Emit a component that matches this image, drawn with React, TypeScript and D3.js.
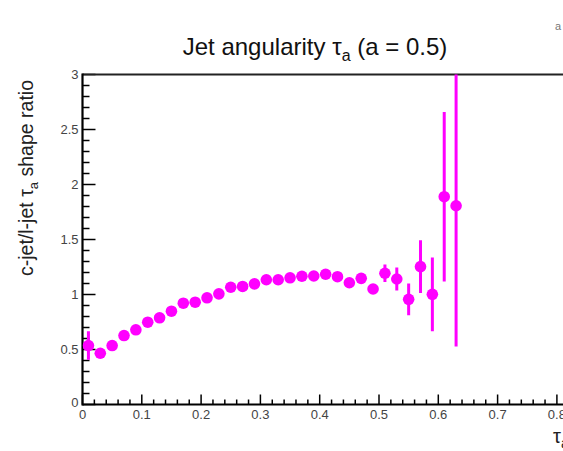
import React from "react";
import * as d3 from "d3";

const binCenters = [0.01,0.03,0.05,0.07,0.09,0.11,0.13,0.15,0.17,0.19,0.21,0.23,0.25,0.27,0.29,0.31,0.33,0.35,0.37,0.39,0.41,0.43,0.45,0.47,0.49,0.51,0.53,0.55,0.57,0.59,0.61,0.63];
const ratios = [0.536,0.466,0.536,0.627,0.679,0.748,0.788,0.848,0.921,0.93,0.97,1.006,1.066,1.073,1.097,1.134,1.134,1.152,1.166,1.168,1.184,1.162,1.107,1.147,1.05,1.193,1.141,0.956,1.253,1.002,1.889,1.807];
const errors = [0.13,0.02,0.02,0.02,0.02,0.02,0.02,0.02,0.02,0.02,0.02,0.02,0.02,0.02,0.02,0.02,0.02,0.02,0.02,0.02,0.02,0.02,0.03,0.035,0.04,0.08,0.105,0.145,0.24,0.335,0.77,1.28];
const yTickLabels = ["0","0.5","1","1.5","2","2.5","3"];
const xTickLabels = ["0","0.1","0.2","0.3","0.4","0.5","0.6","0.7","0.8"];

const W = 563, H = 451;
const FONT = "'Liberation Sans', Arial, Helvetica, sans-serif";
const MAG = "#ff00ff";

export default function App() {
  const x = d3.scaleLinear().domain([0, 1]).range([82.5, 675.5]);
  const y = d3.scaleLinear().domain([0, 3]).range([404.5, 74.5]);
  const yMinor = d3.range(0, 31).map(i => i / 10);
  const xMinor = d3.range(0, 51).map(i => i / 50);
  const [x0, x1] = x.range();
  const [y0, y1] = y.range();
  return (
    <svg width={W} height={H} style={{ position: "absolute", left: 0, top: 0, background: "#fff" }} fontFamily={FONT}>
      <defs>
        <clipPath id="plotclip">
          <rect x={x0} y={y1} width={x1 - x0} height={y0 - y1} />
        </clipPath>
      </defs>
      {/* title */}
      <text x={315} y={55} textAnchor="middle" fontSize={24} fill="#111">
        Jet angularity τ<tspan fontSize={16} dy={6}>a</tspan><tspan dy={-6}> (a = 0.5)</tspan>
      </text>
      <text x={555} y={30} fontSize={11} fill="#777">a</text>
      {/* y ticks */}
      {yMinor.map((v, i) => (
        <line key={"ym" + i} x1={x0} x2={x0 + (i % 5 === 0 ? 13 : 7)} y1={y(v)} y2={y(v)} stroke="#000" strokeWidth={1.5} />
      ))}
      {/* x ticks */}
      {xMinor.map((v, i) => (
        <line key={"xm" + i} x1={x(v)} x2={x(v)} y1={y0} y2={y0 - (i % 5 === 0 ? 10 : 5)} stroke="#000" strokeWidth={1.5} />
      ))}
      {/* frame */}
      <line x1={x0} x2={W + 5} y1={y1} y2={y1} stroke="#222" strokeWidth={2.2} />
      <line x1={x0} x2={W + 5} y1={y0} y2={y0} stroke="#000" strokeWidth={2.2} />
      <line x1={x0} x2={x0} y1={y1 - 1} y2={y0 + 1} stroke="#000" strokeWidth={2.2} />
      {/* y tick labels */}
      {yTickLabels.map((t, i) => (
        <text key={"yl" + i} x={x0 - 4} y={y(+t) + (i === 0 ? 2 : 4.5)} textAnchor="end" fontSize={13} fill="#444">{t}</text>
      ))}
      {/* x tick labels */}
      {xTickLabels.map((t, i) => (
        <text key={"xl" + i} x={x(+t)} y={y0 + 14} textAnchor="middle" fontSize={13} fill="#444">{t}</text>
      ))}
      {/* axis titles */}
      <text transform={`translate(33,178) rotate(-90)`} textAnchor="middle" fontSize={19.5} fill="#222">
        c-jet/l-jet τ<tspan fontSize={13} dy={5}>a</tspan><tspan dy={-5}> shape ratio</tspan>
      </text>
      <text x={553} y={443} fontSize={20} fill="#222">τ<tspan fontSize={14} dy={5}>a</tspan></text>
      {/* data */}
      <g clipPath="url(#plotclip)">
        {binCenters.map((c, i) => (
          <line key={"e" + i} x1={x(c)} x2={x(c)} y1={y(ratios[i] + errors[i])} y2={y(ratios[i] - errors[i])} stroke={MAG} strokeWidth={3} />
        ))}
        {binCenters.map((c, i) => (
          <circle key={"p" + i} cx={x(c)} cy={y(ratios[i])} r={5.8} fill={MAG} />
        ))}
      </g>
    </svg>
  );
}
